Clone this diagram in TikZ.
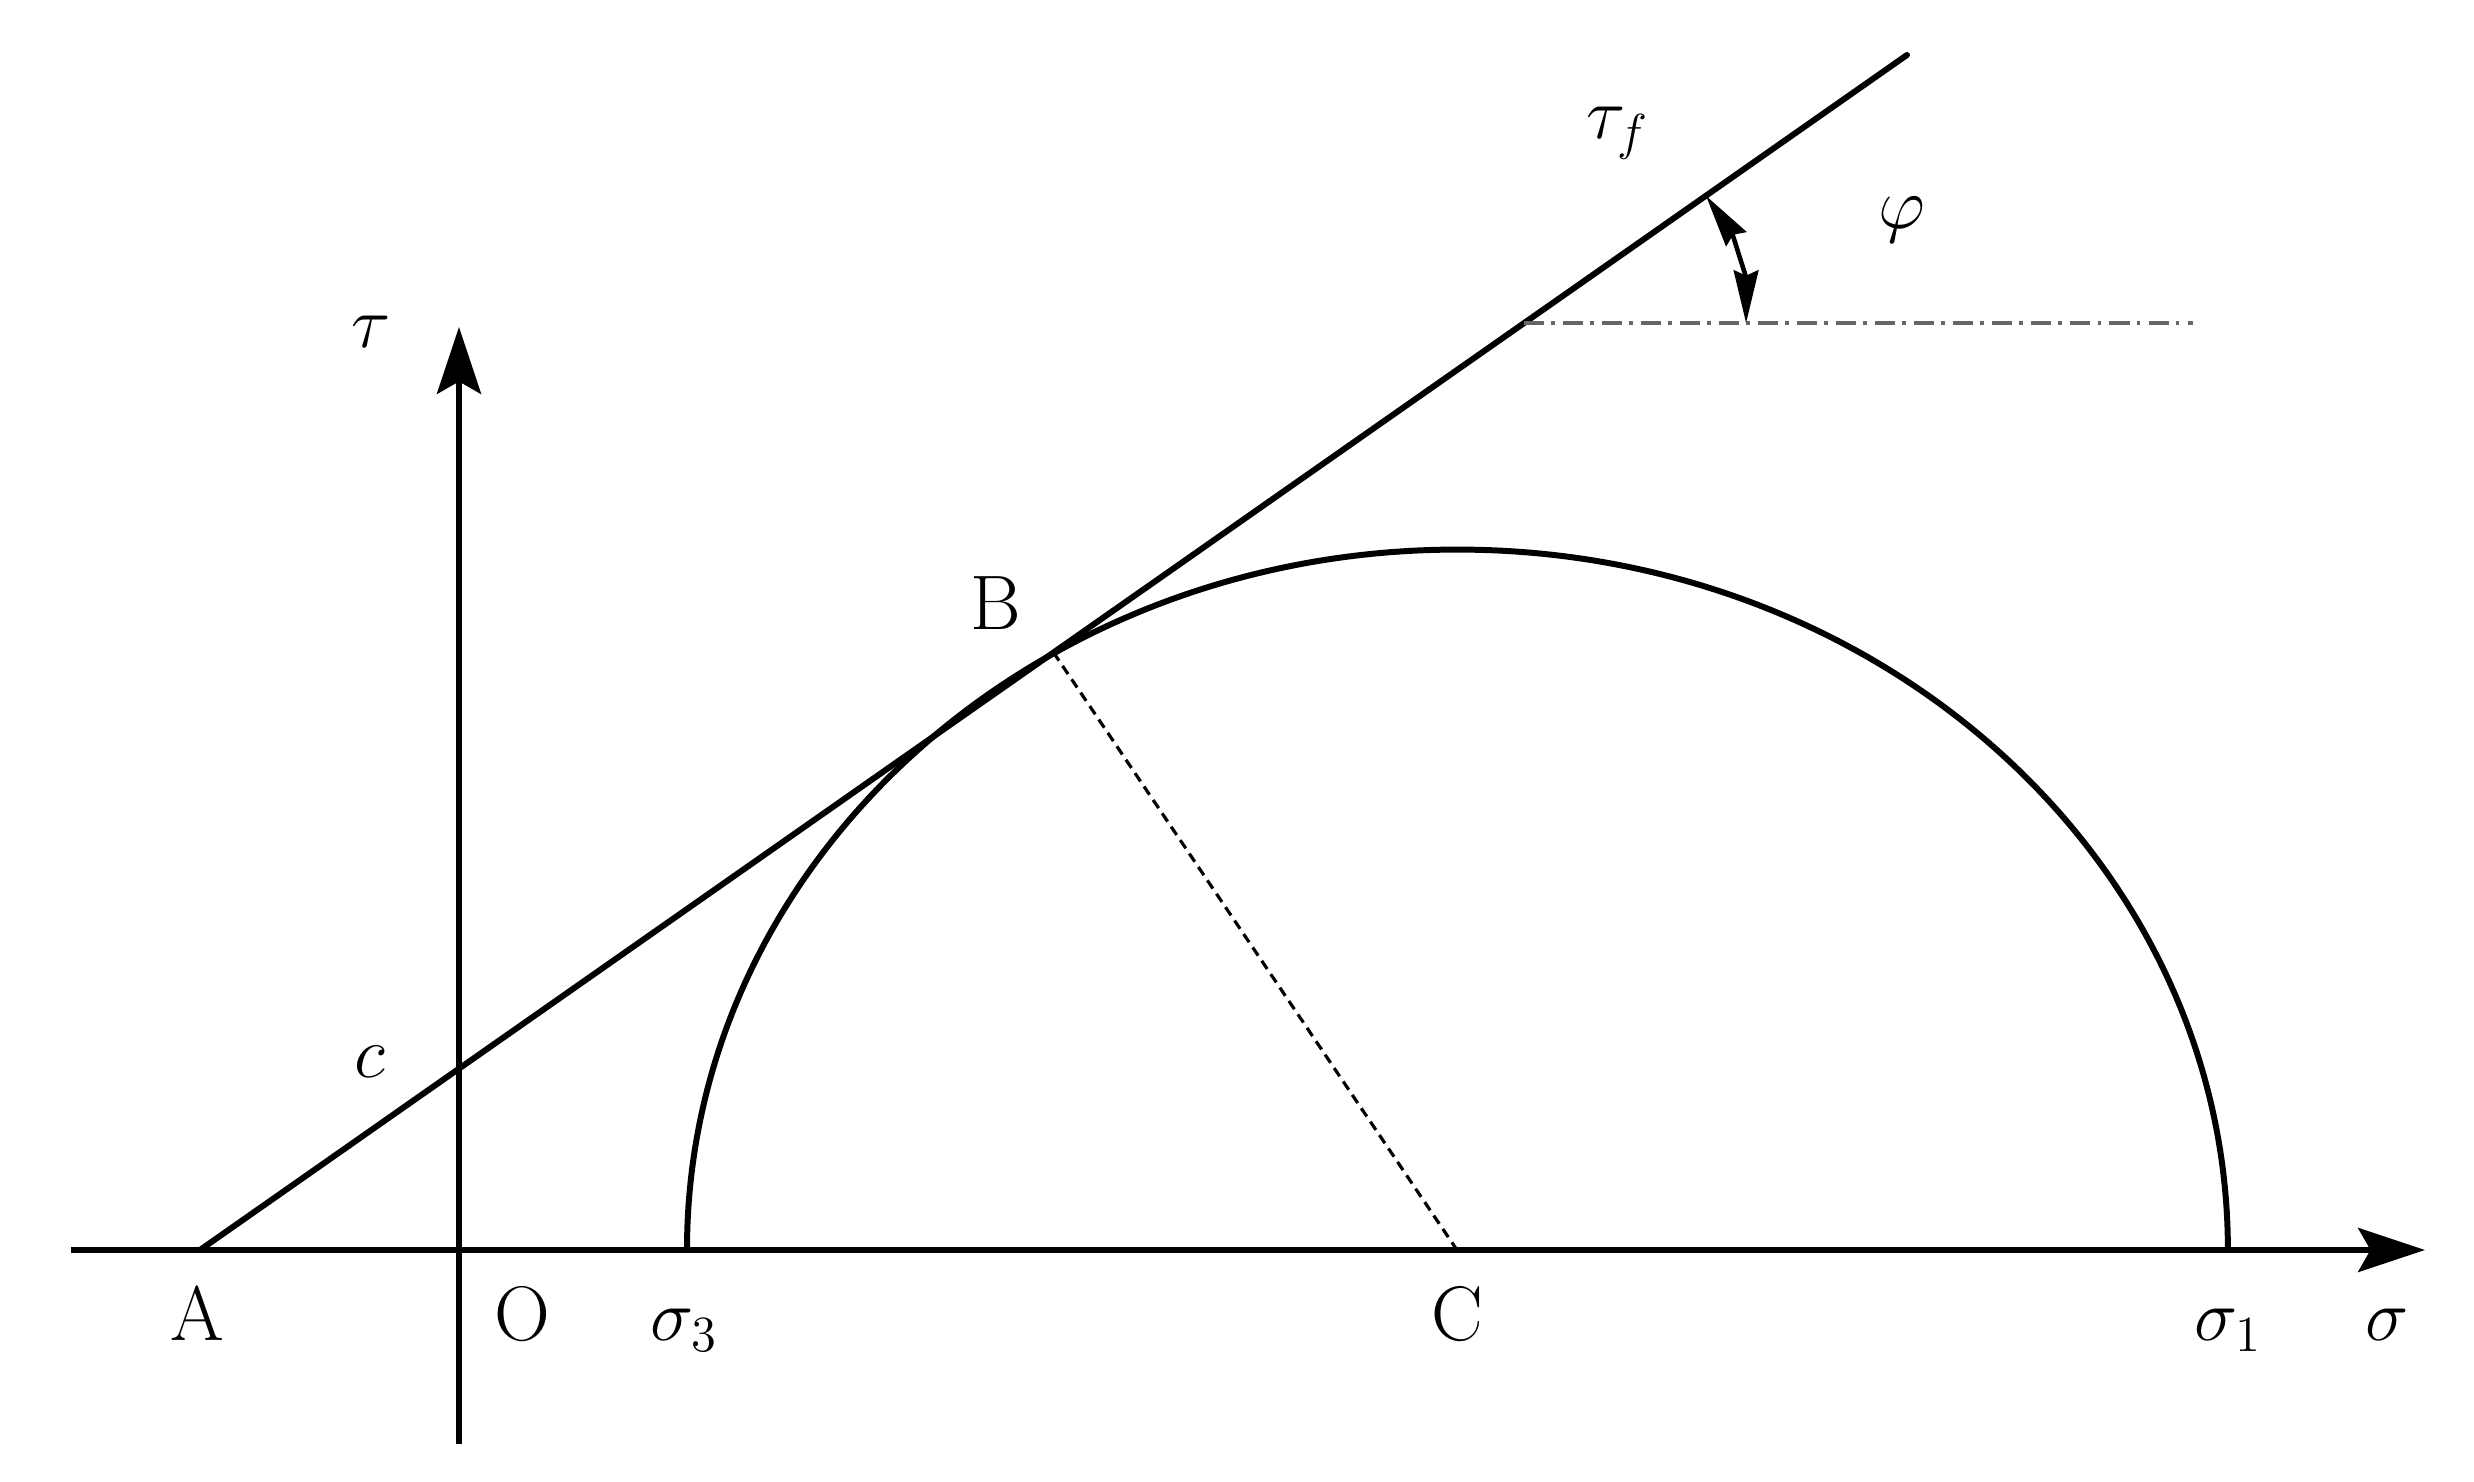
\documentclass[tikz,border=0pt]{standalone}
\usetikzlibrary{arrows.meta,calc}
\begin{document}
\begin{tikzpicture}[x=0.01cm,y=0.01cm,
  mainline/.style={line width=1.7pt},
  axis/.style={line width=1.7pt,-{Stealth[length=19pt,width=12.5pt,inset=3.5pt]}},
  lbl/.style={inner sep=0pt,font=\fontsize{22}{26}\selectfont},
  radiusline/.style={line width=0.9pt,dash pattern=on 2.8pt off 1.8pt},
  refline/.style={line width=1.3pt,black!60,dash pattern=on 5.7pt off 2pt on 1.1pt off 2.3pt},
  anglearrow/.style={line width=1.3pt,{Stealth[length=15pt,width=7pt,inset=1.5pt]}-{Stealth[length=15pt,width=7pt,inset=1.5pt]}}]
\useasboundingbox (0,0) rectangle (2474,1482);
\coordinate (sL) at (71,232);
\coordinate (sR) at (2425,232);
\coordinate (tB) at (459,38);
\coordinate (tT) at (459,1155);
\coordinate (A) at (200,232);
\coordinate (T) at (1907,1427);
\coordinate (C) at (1457,232);
\coordinate (S3) at (687,232);
\coordinate (B) at ($(A)!0.50!(T)$);
\coordinate (P) at ($(A)!0.7756!(T)$);
\coordinate (Qx) at (2193,0);
\coordinate (Q) at (Qx |- P);
\coordinate (R) at ($(P)+(2.22cm,0)$);

\draw[axis] (sL) -- (sR);
\draw[axis] (tB) -- (tT);
\draw[mainline,line cap=round] (A) -- (T);
\draw[mainline] (S3) arc[start angle=180,end angle=0,x radius=7.70cm,y radius=7.00cm];
\draw[radiusline] (B) -- (C);
\draw[refline] (P) -- (Q);
\draw[anglearrow] (R) arc[start angle=0,end angle=35,radius=2.22cm];

\node[lbl,anchor=base] (lA) at (197,141) {A};
\node[lbl,anchor=base] (lO) at (522,141) {O};
\node[lbl,anchor=base west] (ls3) at (650,141) {$\sigma_3$};
\node[lbl,anchor=base] (lC) at (1457,141) {C};
\node[lbl,anchor=base west] (ls1) at (2194,141) {$\sigma_1$};
\node[lbl,anchor=base] (ls) at (2387,141) {$\sigma$};
\node[lbl,anchor=base] (lt) at (371,1134) {$\tau$};
\node[lbl,anchor=base] (lc) at (370,404) {$c$};
\node[lbl,anchor=base] (lB) at (996,852) {B};
\node[lbl,anchor=base west] (ltf) at (1586,1343) {$\tau_f$};
\node[lbl,anchor=base] (lphi) at (1902,1253) {$\varphi$};
\end{tikzpicture}
\end{document}
